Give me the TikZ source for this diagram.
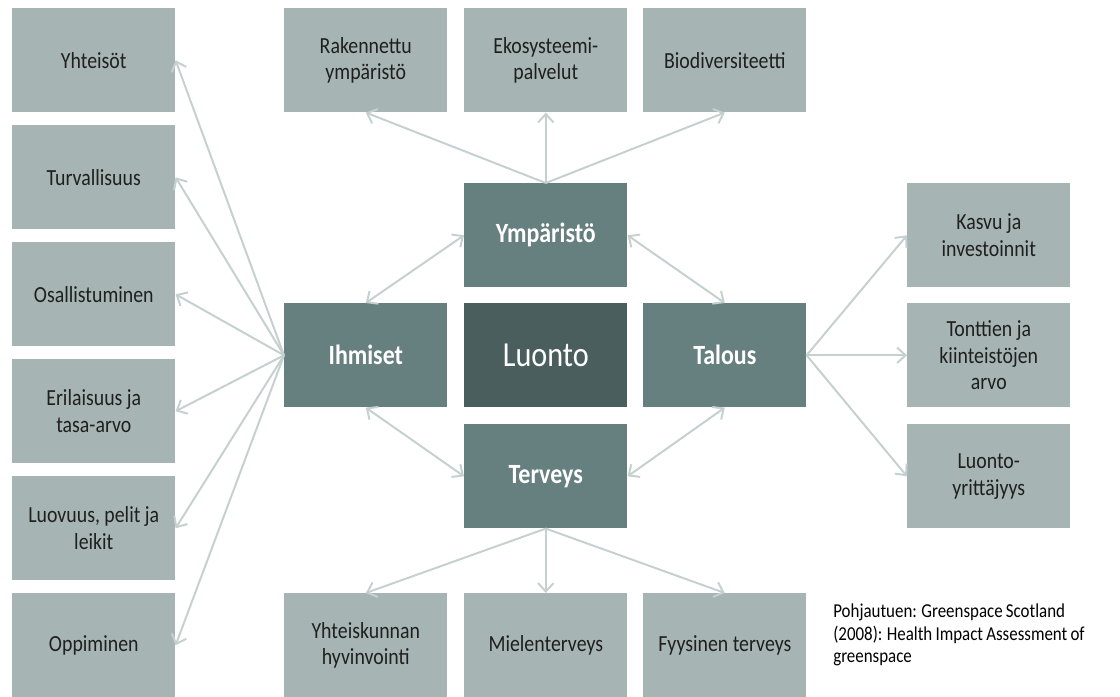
\documentclass[tikz,border=0pt]{standalone}
\usepackage{fontspec}
\setmainfont[FakeStretch=0.86]{Carlito}
\usepackage{tikz}
\usetikzlibrary{arrows.meta}
\usetikzlibrary{positioning}

\definecolor{leafgray}{HTML}{A6B5B4}
\definecolor{hubteal}{HTML}{667F7F}
\definecolor{coreteal}{HTML}{4B5E5E}
\definecolor{linkgray}{HTML}{C5D0CF}

\newcommand{\srcfont}{\fontsize{14}{16}\selectfont\spaceskip 0.16em plus 0.05em\relax}

\tikzset{
  leaf/.style={rectangle, fill=leafgray, text=black!88, minimum height=2.6cm, minimum width=4.075cm, align=center, anchor=north west, font=\fontsize{16.4}{19}\selectfont},
  hub/.style={rectangle, fill=hubteal, text=white, minimum height=2.6cm, minimum width=4.075cm, align=center, anchor=north west, font=\fontsize{19.8}{23}\selectfont\bfseries},
  core/.style={hub, fill=coreteal, font=\fontsize{25}{29}\selectfont},
  link/.style={draw=linkgray, line width=1.4pt},
}

\begin{document}
\begin{tikzpicture}[x=0.025cm, y=-0.025cm]

\useasboundingbox (0,0) rectangle (1120,697);

% left column
\node at (12,8) [leaf] (yht) {Yhteisöt};
\node at (12,125) [leaf] (turv) {Turvallisuus};
\node at (12,242) [leaf] (osal) {Osallistuminen};
\node at (12,359) [leaf] (eril) {Erilaisuus ja\\tasa-arvo};
\node at (12,476) [leaf] (luov) {Luovuus, pelit ja\\leikit};
\node at (12,593) [leaf] (opp) {Oppiminen};

% top row
\node at (284,8) [leaf] (rak) {Rakennettu\\ympäristö};
\node at (464,8) [leaf] (eko) {Ekosysteemi-\\palvelut};
\node at (643,8) [leaf] (bio) {Biodiversiteetti};

% centre
\node at (464,183) [hub] (ymp) {Ympäristö};
\node at (284,303) [hub] (ihm) {Ihmiset};
\node at (464,303) [core] (luo) {Luonto};
\node at (643,303) [hub] (tal) {Talous};
\node at (464,424) [hub] (ter) {Terveys};

% right column
\node at (907,183) [leaf] (kasvu) {Kasvu ja\\investoinnit};
\node at (907,303) [leaf] (tontti) {Tonttien ja\\kiinteistöjen\\arvo};
\node at (907,424) [leaf] (yritt) {Luonto-\\yrittäjyys};

% bottom row
\node at (284,593) [leaf] (yhtk) {Yhteiskunnan\\hyvinvointi};
\node at (464,593) [leaf] (miel) {Mielenterveys};
\node at (643,593) [leaf] (fyys) {Fyysinen terveys};

\node at (833,604) [anchor=north west, align=left, inner sep=0pt, font=\srcfont] (src) {Pohjautuen: Greenspace Scotland\\(2008): Health Impact Assessment of\\greenspace};

\begin{scope}[>={Straight Barb[length=6pt,width=11pt,line width=1.4pt]}]
	\foreach \t in {yht,turv,osal,eril,luov,opp}
		\draw [link, ->] (ihm.west) -- (\t.east);
	\foreach \t in {rak,eko,bio}
		\draw [link, ->] (ymp.north) -- (\t.south);
	\foreach \t in {yhtk,miel,fyys}
		\draw [link, ->] (ter.south) -- (\t.north);
	\foreach \t in {kasvu,tontti,yritt}
		\draw [link, ->] (tal.east) -- (\t.west);

	\draw [link, <->] (ymp.west) -- (ihm.north);
	\draw [link, <->] (ymp.east) -- (tal.north);
	\draw [link, <->] (ihm.south) -- (ter.west);
	\draw [link, <->] (tal.south) -- (ter.east);
\end{scope}

\end{tikzpicture}
\end{document}
